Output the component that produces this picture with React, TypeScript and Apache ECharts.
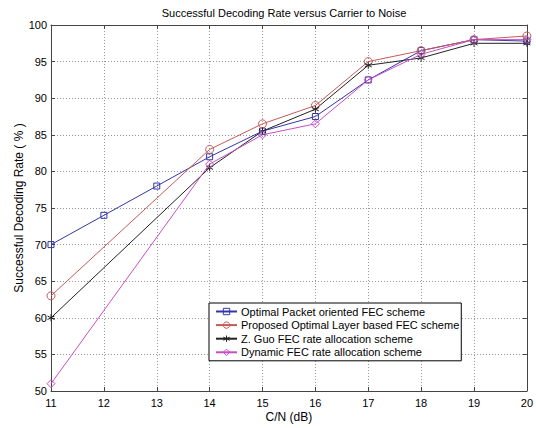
import React, { useEffect, useRef } from "react";
import * as echarts from "echarts";

const xFull = [11, 12, 13, 14, 15, 16, 17, 18, 19, 20];
const xSparse = [11, 14, 15, 16, 17, 18, 19, 20];
const seriesNames = [
  "Optimal Packet oriented FEC scheme",
  "Proposed Optimal Layer based FEC scheme",
  "Z. Guo FEC rate allocation scheme",
  "Dynamic FEC rate allocation scheme",
];
const packetVals = [70, 74, 78, 82, 85.5, 87.5, 92.5, 96.5, 98, 97.8];
const layerVals = [63, 83, 86.5, 89, 95, 96.5, 98, 98.5];
const guoVals = [60, 80.5, 85.5, 88.5, 94.5, 95.5, 97.5, 97.5];
const dynamicVals = [51, 81, 85, 86.5, 92.5, 96, 98, 98];
const titleText = "Successful Decoding Rate versus Carrier to Noise";
const xName = "C/N (dB)";
const yName = "Successful Decoding Rate ( % )";

const FONT = "'Liberation Sans', Arial, sans-serif";
const STAR = "path://M5,0 L5,10 M0.67,2.5 L9.33,7.5 M0.67,7.5 L9.33,2.5";

const pairs = (xs: number[], ys: number[]) => xs.map((x, i) => [x, ys[i]]);

export default function App() {
  const ref = useRef<HTMLDivElement>(null);
  useEffect(() => {
    if (!ref.current) return;
    const chart = echarts.init(ref.current, undefined, { renderer: "svg" });
    const axisBase = {
      type: "value" as const,
      axisLine: { show: true, onZero: false, lineStyle: { color: "#444", width: 1 } },
      axisTick: { show: true, inside: true, length: 4, lineStyle: { color: "#444" } },
    };
    const mk = (name: string, data: number[][], color: string, symbol: string, size: number) => ({
      name,
      type: "line",
      data,
      symbol,
      symbolSize: size,
      showSymbol: true,
      lineStyle: { color, width: 1 },
      itemStyle: { color: "rgba(255,255,255,0)", borderColor: color, borderWidth: 1 },
      xAxisIndex: 0,
      yAxisIndex: 0,
    });
    chart.setOption({
      animation: false,
      backgroundColor: "#fff",
      textStyle: { fontFamily: FONT },
      graphic: [
        {
          type: "text",
          x: 284,
          y: 13,
          style: {
            text: titleText,
            fontSize: 11,
            fontFamily: FONT,
            fill: "#000",
            textAlign: "center",
            textVerticalAlign: "middle",
          },
        },
      ],
      grid: { left: 51, top: 25, width: 479, height: 372, containLabel: false },
      xAxis: [
        {
          ...axisBase,
          position: "bottom",
          min: 11,
          max: 20,
          interval: 1,
          name: xName,
          nameLocation: "middle",
          nameGap: 20,
          nameMoveOverlap: false,
          nameTextStyle: { fontSize: 12, color: "#000", fontFamily: FONT },
          axisLabel: { fontSize: 11, color: "#000", margin: 6, fontFamily: FONT },
          splitLine: { show: true, lineStyle: { type: [1, 2], color: "#999", width: 1 } },
        },
        {
          ...axisBase,
          position: "top",
          min: 11,
          max: 20,
          interval: 1,
          axisLabel: { show: false },
          splitLine: { show: false },
        },
      ],
      yAxis: [
        {
          ...axisBase,
          position: "left",
          min: 50,
          max: 100,
          interval: 5,
          name: yName,
          nameLocation: "middle",
          nameGap: 26,
          nameMoveOverlap: false,
          nameRotate: 90,
          nameTextStyle: { fontSize: 12, color: "#000", fontFamily: FONT },
          axisLabel: { fontSize: 11, color: "#000", margin: 4, fontFamily: FONT },
          splitLine: { show: true, lineStyle: { type: [1, 2], color: "#999", width: 1 } },
        },
        {
          ...axisBase,
          position: "right",
          min: 50,
          max: 100,
          interval: 5,
          axisLabel: { show: false },
          splitLine: { show: false },
        },
      ],
      legend: {
        orient: "vertical",
        left: 209,
        top: 303,
        padding: [3, 2, 3, 6],
        itemWidth: 21,
        itemHeight: 8,
        itemGap: 2.6,
        backgroundColor: "#fff",
        borderColor: "#000",
        borderWidth: 1,
        borderRadius: 0,
        itemStyle: { borderWidth: 1 },
        textStyle: { fontSize: 11, color: "#000", fontFamily: FONT, padding: [0, 0, 0, -1], lineHeight: 10 },
        data: seriesNames,
      },
      series: [
        mk(seriesNames[0], pairs(xFull, packetVals), "#3535a8", "rect", 6),
        mk(seriesNames[1], pairs(xSparse, layerVals), "#c45a5a", "circle", 8),
        mk(seriesNames[2], pairs(xSparse, guoVals), "#222", STAR, 7),
        mk(seriesNames[3], pairs(xSparse, dynamicVals), "#c84ec8", "diamond", 8),
      ],
    });
    return () => chart.dispose();
  }, []);
  return (
    <div
      ref={ref}
      style={{ position: "fixed", left: 0, top: 0, width: 536, height: 428, background: "#fff" }}
    />
  );
}
